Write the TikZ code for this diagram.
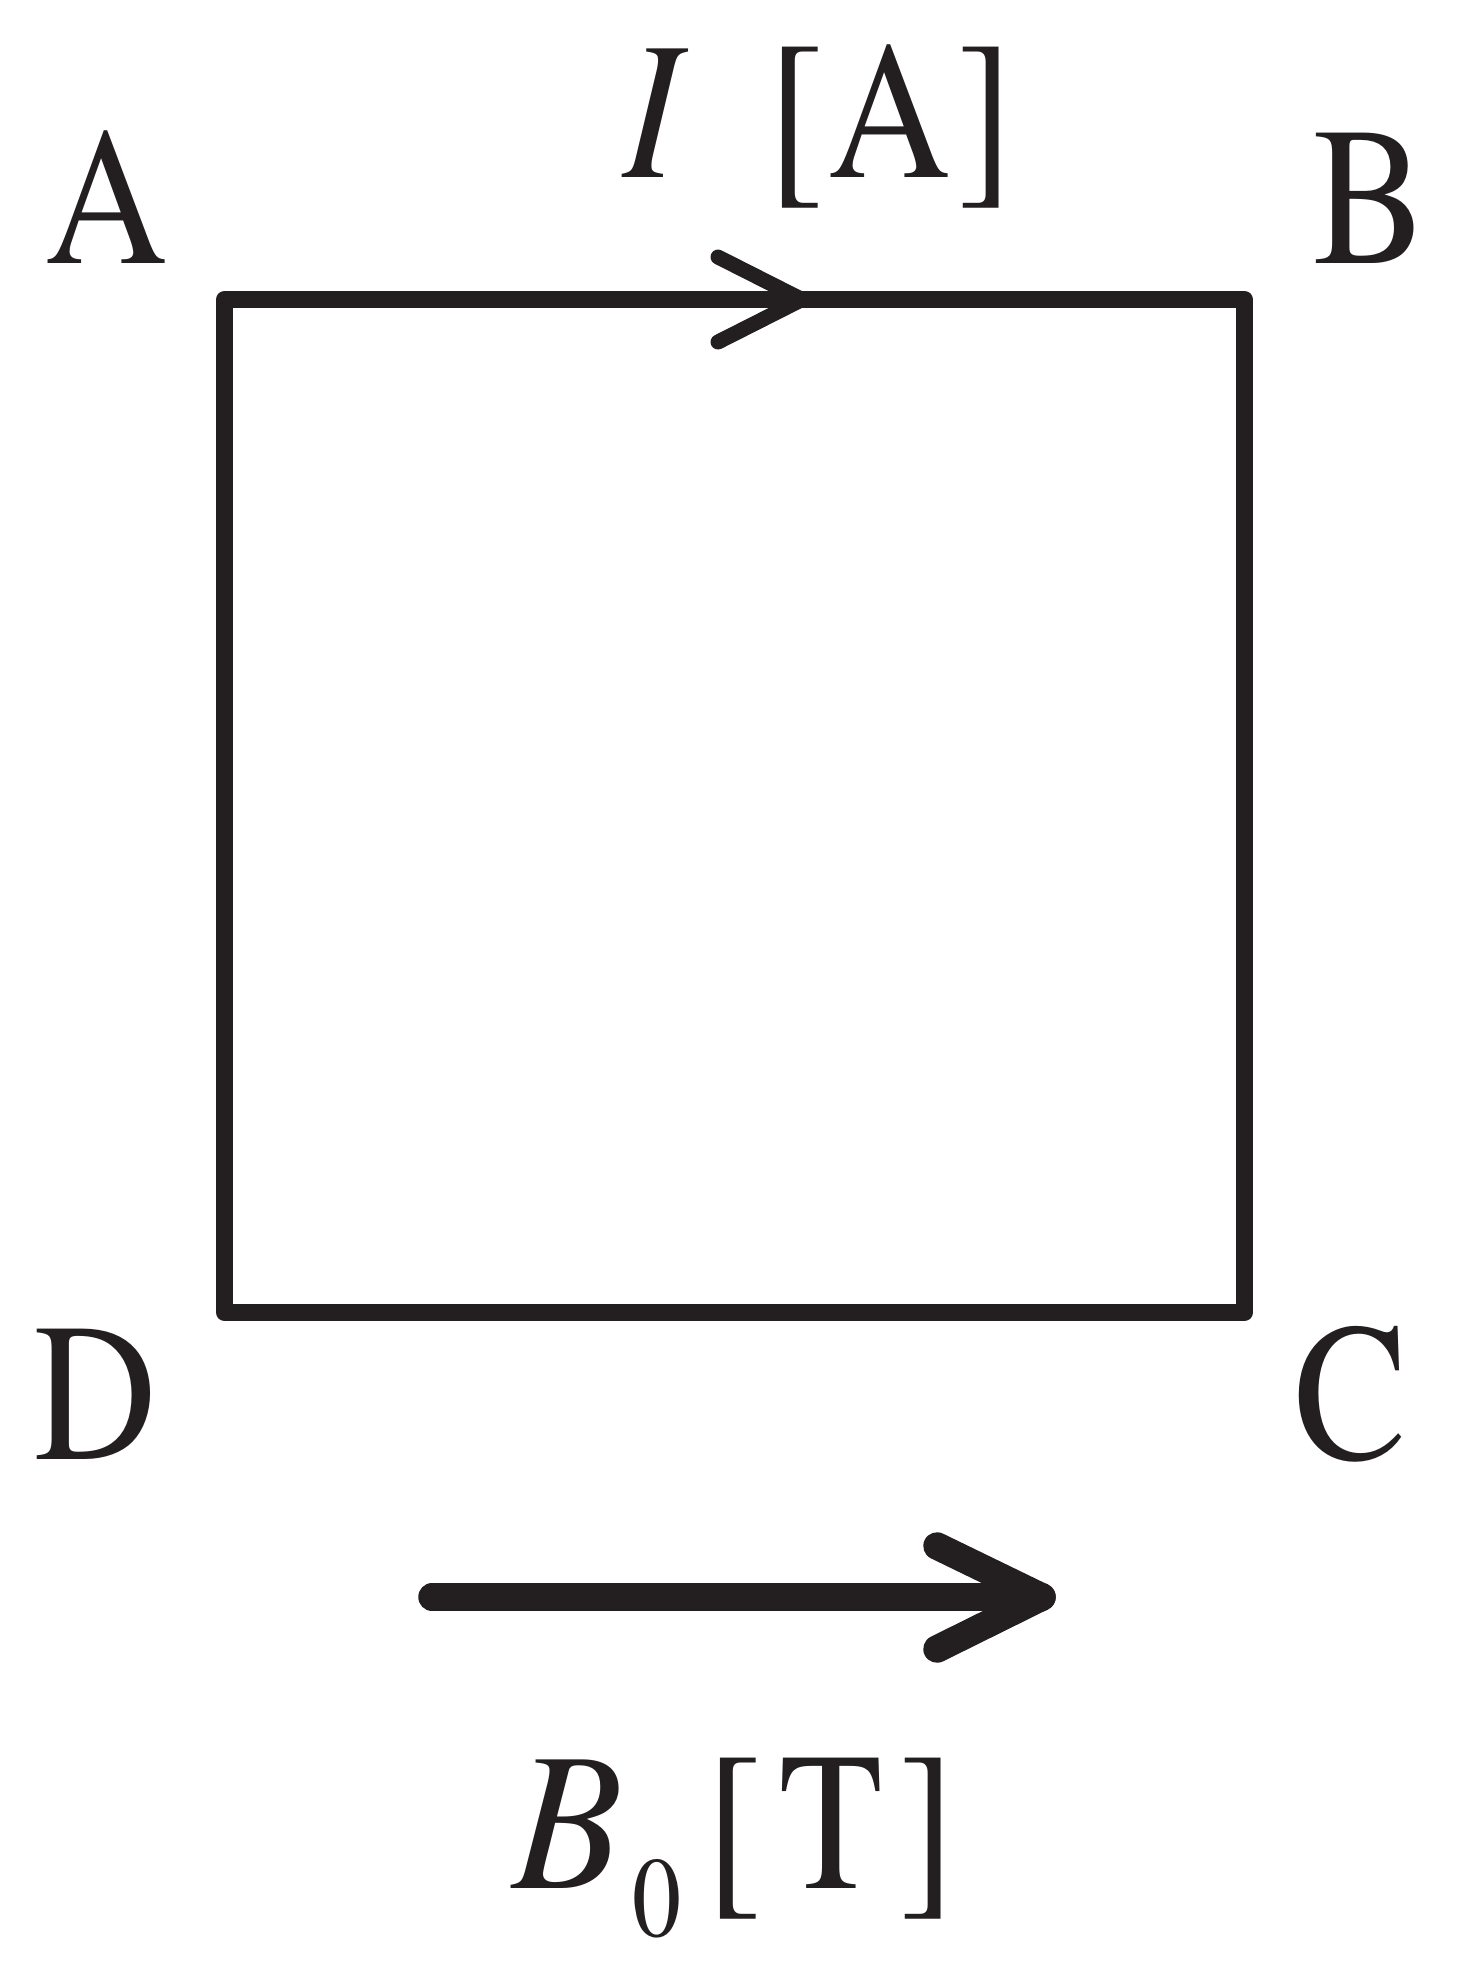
\documentclass[tikz,border=0pt]{standalone}
\usepackage{fontspec}
\usepackage{graphicx}
\setmainfont{TeX Gyre Termes}
\definecolor{ink}{RGB}{35,31,32}
\newcommand{\nar}[1]{\scalebox{0.86}[1]{#1}}
\begin{document}
\begin{tikzpicture}[x=0.2pt,y=-0.2pt,
  lbl/.style={inner sep=0pt, outer sep=0pt, anchor=base, text=ink, font=\fontsize{39.4}{47}\selectfont},
  sublbl/.style={lbl, font=\fontsize{22.8}{27}\selectfont},
  wire/.style={draw=ink, line width=3.4pt, line join=round, line cap=round},
  chev/.style={draw=ink, line width=3.0pt, line join=round, line cap=round},
  field/.style={draw=ink, line width=5.5pt, line join=round, line cap=round}]
\useasboundingbox (0,0) rectangle (1462,1977);
% loop corners
\coordinate (pA) at (224.5,299.5);
\coordinate (pB) at (1244.5,299.5);
\coordinate (pC) at (1244.5,1312.5);
\coordinate (pD) at (224.5,1312.5);
\draw[wire] (pA) -- (pB) -- (pC) -- (pD) -- cycle;
% current arrow head on AB
\coordinate (cU) at (718,257);
\coordinate (cT) at (802,299.5);
\coordinate (cL) at (718,342);
\draw[chev] (cU) -- (cT) -- (cL);
% field arrow
\coordinate (fS) at (432,1597);
\coordinate (fT) at (1042,1597);
\coordinate (fU) at (937,1546);
\coordinate (fL) at (937,1649);
\draw[field] (fS) -- (fT);
\draw[field] (fU) -- (fT) -- (fL);
% corner labels
\node[lbl] (lA) at (107,263) {\nar{A}};
\node[lbl] (lB) at (1370,263) {\nar{B}};
\node[lbl] (lD) at (96,1459) {\nar{D}};
\node[lbl] (lC) at (1351,1459) {\nar{C}};
% current label
\node[lbl] (lI) at (652,177) {\nar{\itshape I}};
\node[lbl] (lIu) at (891,177) {\nar{[\hspace{0.03em}A\hspace{0.04em}]}};
% field label
\node[lbl] (lB0) at (568,1888) {\scalebox{0.92}[1]{\itshape B}};
\node[sublbl] (lsub) at (657,1936) {\nar{0}};
\node[lbl] (lT) at (831,1888) {\nar{[\hspace{0.1em}T\hspace{0.1em}]}};
\end{tikzpicture}
\end{document}
